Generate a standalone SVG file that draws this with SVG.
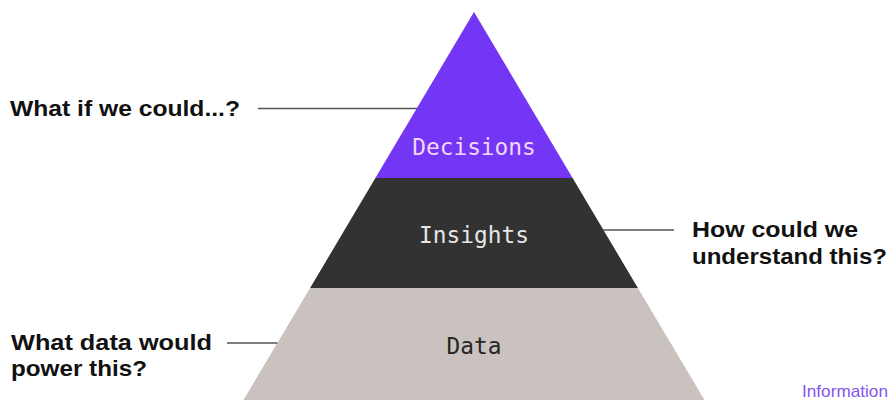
<svg xmlns="http://www.w3.org/2000/svg" width="891" height="404" viewBox="0 0 891 404">
  <style>
    .tier-label { font-family: "DejaVu Sans Mono", "Liberation Mono", monospace; font-size: 22.8px; text-anchor: middle; }
    .question { font-family: "Liberation Sans", Arial, sans-serif; font-weight: bold; font-size: 22px; fill: #111111; }
    .leader { stroke: #555555; stroke-width: 1.5; fill: none; }
  </style>
  <rect width="891" height="404" fill="#ffffff"/>

  <!-- Pyramid tiers, apex at (474,12) -->
  <g id="decisions">
    <polygon points="474,12 572.6,178 375.4,178" fill="#7236f4"/>
    <text class="tier-label" x="474" y="155" fill="#f2d6f6">Decisions</text>
  </g>
  <g id="insights">
    <polygon points="375.4,178 572.6,178 637.9,288 310.1,288" fill="#323232"/>
    <text class="tier-label" x="474" y="243" fill="#e6e6e6">Insights</text>
  </g>
  <g id="data">
    <polygon points="310.1,288 637.9,288 704.5,400 243.5,400" fill="#c9c2be"/>
    <text class="tier-label" x="474" y="354" fill="#262626">Data</text>
  </g>

  <!-- Question labels -->
  <g id="q-decisions">
    <text class="question" x="10" y="116" textLength="230" lengthAdjust="spacingAndGlyphs">What if we could...?</text>
  </g>
  <g id="q-insights">
    <text class="question" x="692" y="237" textLength="166" lengthAdjust="spacingAndGlyphs">How could we</text>
    <text class="question" x="692" y="264" textLength="195" lengthAdjust="spacingAndGlyphs">understand this?</text>
  </g>
  <g id="q-data">
    <text class="question" x="11" y="350" textLength="201" lengthAdjust="spacingAndGlyphs">What data would</text>
    <text class="question" x="11" y="376" textLength="136" lengthAdjust="spacingAndGlyphs">power this?</text>
  </g>

  <!-- Leader lines from questions to tiers -->
  <g id="connectors">
    <line class="leader" x1="258" y1="108.5" x2="417" y2="108.5"/>
    <line class="leader" x1="603" y1="230" x2="674" y2="230"/>
    <line class="leader" x1="227" y1="343" x2="277.5" y2="343"/>
  </g>

  <g id="caption">
    <text x="802" y="397" font-family="Liberation Sans, Arial, sans-serif" font-size="16.5" fill="#8455ee" textLength="86" lengthAdjust="spacingAndGlyphs">Information</text>
  </g>
</svg>
